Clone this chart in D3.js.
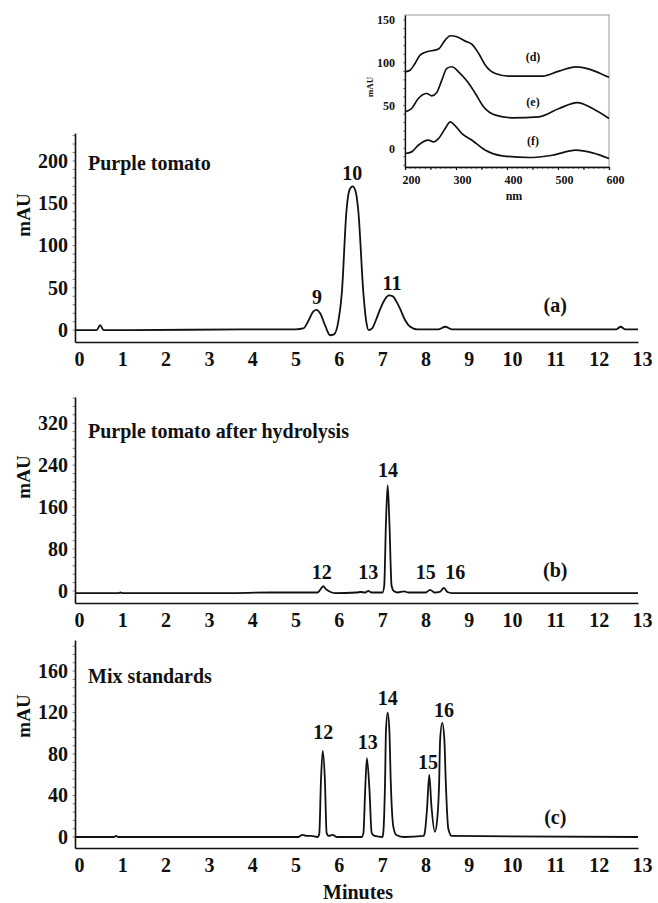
<!DOCTYPE html>
<html>
<head>
<meta charset="utf-8">
<script src="https://cdn.jsdelivr.net/npm/d3@7"></script>
<style>
body { margin: 0; background: #fff; }
svg text { font-family: "Liberation Serif", "Times New Roman", serif; font-weight: bold; fill: #111; }
</style>
</head>
<body>
<svg width="658" height="903"></svg>
<script>
// x ticks shared by the three chromatograms (minutes)
var minuteTicks = [0, 1, 2, 3, 4, 5, 6, 7, 8, 9, 10, 11, 12, 13];

// (a) purple tomato
var timeA = [0, 0.5, 0.58, 0.66, 1.2, 4.0, 5.1, 5.27, 5.4, 5.5, 5.58, 5.66, 5.78, 5.89, 5.98, 6.08, 6.16, 6.27, 6.34, 6.41, 6.48, 6.54, 6.66, 6.72, 6.78, 6.86, 6.95, 7.04, 7.15, 7.25, 7.34, 7.42, 7.5, 7.62, 7.74, 7.9, 8.4, 8.55, 8.7, 12.5, 12.6, 12.7, 13];
var mauA = [0, 0, 6, 0, 0, 1, 1, 2, 12, 22, 24, 20, 5, -6, -5, 10, 43, 142, 166, 170, 164, 142, 43, 12, 0, 2, 12, 24, 36, 41, 40, 34, 26, 12, 4, 1, 1, 4, 1, 1, 4, 1, 1];
var yTicksA = [0, 50, 100, 150, 200];
var peaksA = ["9", "10", "11", "(a)"];
var peakTimeA = [5.59, 6.40, 7.32, 11.09];
var peakMauA = [31, 177, 48, 21];

// (b) purple tomato after hydrolysis
var timeB = [0, 1.0, 1.05, 1.1, 2.5, 3.5, 4.5, 5.6, 5.66, 5.73, 5.8, 5.9, 6.0, 6.5, 6.6, 6.7, 6.77, 6.85, 7.1, 7.14, 7.18, 7.22, 7.26, 7.31, 7.36, 7.45, 7.6, 7.7, 8.1, 8.2, 8.3, 8.42, 8.52, 8.6, 8.7, 13];
var mauB = [-4, -4, -3, -4, -4, -4, -3, -3, 2, 9, 3, -2, -4, -3, -2, -3, 0, -3, -3, 10, 130, 202, 130, 10, 0, -3, -1, -3, -3, 2, -3, -2, 6, -2, -4, -4];
var yTicksB = [0, 80, 160, 240, 320];
var peaksB = ["12", "13", "14", "15", "16", "(b)"];
var peakTimeB = [5.70, 6.77, 7.23, 8.10, 8.78, 11.09];
var peakMauB = [23, 23, 217, 23, 23, 27];

// (c) mix standards
var timeC = [0, 0.9, 0.95, 1.0, 5.15, 5.25, 5.35, 5.45, 5.6, 5.64, 5.68, 5.72, 5.77, 5.81, 5.86, 5.95, 6.05, 6.62, 6.66, 6.70, 6.74, 6.80, 6.85, 6.92, 7.1, 7.12, 7.16, 7.18, 7.22, 7.26, 7.29, 7.35, 7.42, 7.6, 8.05, 8.08, 8.13, 8.18, 8.23, 8.31, 8.37, 8.41, 8.43, 8.48, 8.53, 8.56, 8.62, 8.7, 13];
var mauC = [0, 0, 1, 0, 0, 2, 1, 1, 0, 3, 55, 83, 55, 4, 1, 2, 0, 0, 4, 45, 76, 45, 4, 1, 0, 5, 55, 102, 120, 102, 55, 10, 2, 0, 1, 5, 28, 60, 30, 5, 20, 55, 93, 110, 93, 55, 8, 1, 0];
var yTicksC = [0, 40, 80, 120, 160];
var peaksC = ["12", "13", "14", "15", "16", "(c)"];
var peakTimeC = [5.73, 6.76, 7.22, 8.15, 8.52, 11.09];
var peakMauC = [95, 85, 127, 66, 116, 13];

// inset: UV-vis spectra
var nmTicks = [200, 300, 400, 500, 600];
var specTicks = [0, 50, 100, 150];
var nmD = [200, 210, 219.7, 229.6, 242.7, 259, 265.7, 278.8, 288.7, 301.8, 318.2, 331.4, 344.5, 357.6, 377.3, 403.6, 469.3, 502, 535, 561, 587.5, 600];
var specD = [89.5, 91.4, 99.3, 109, 112.9, 114.9, 116.1, 126.6, 131.7, 130.5, 125.4, 121.5, 110.9, 97.3, 87.5, 84.4, 84.4, 90.3, 95.3, 92.6, 86.4, 83];
var nmE = [200, 213, 226, 242.7, 252.5, 262.4, 272.2, 282, 292, 305, 321.5, 338, 354, 377.3, 410, 462.7, 502, 538, 567.8, 600];
var specE = [42.6, 46.5, 58.2, 64.1, 61.4, 65.3, 79.8, 93.5, 95.4, 89.5, 78.6, 64.1, 48.5, 38.7, 35.6, 36.7, 46.5, 53.5, 46.5, 34.8];
var nmF = [200, 213, 226, 246, 255.8, 265.7, 278.8, 288.7, 298.5, 311.7, 331.4, 357.6, 390.5, 443, 489, 535, 567.8, 600];
var specF = [-6.2, -4.3, 3.5, 9.4, 7.4, 11.3, 23, 30.9, 26.2, 17.2, 9.4, -2.3, -8.9, -10.9, -8.2, -2.3, -5.5, -12.1];
var specNames = ["(d)", "(e)", "(f)"];
var specNameNm = [451, 451, 451];
var specNameVal = [102, 49, 3.5];

function zip(a, b) {
    return a.map(function(v, i){ return [v, b[i]]; });
}

var svg = d3.select("svg");

function drawPanel(times, vals, yDomain, top, bottom, yTicks, minorStep, labels, labT, labV, title, titleY, mauY) {
    var x = d3.scaleLinear().domain([0, 13]).range([75, 638]);
    var y = d3.scaleLinear().domain(yDomain).range([bottom, top]);
    var g = svg.append("g");

    // minor ticks on y axis
    var minor = d3.range(yTicks[0], yDomain[1], minorStep);
    g.selectAll("line.minor").data(minor).enter().append("line")
        .attr("x1", 72.5).attr("x2", 75)
        .attr("y1", function(d){ return y(d); }).attr("y2", function(d){ return y(d); })
        .attr("stroke", "#888").attr("stroke-width", 1);

    var xa = g.append("g").attr("transform", "translate(0," + bottom + ")")
        .call(d3.axisBottom(x).tickValues(minuteTicks).tickSize(0).tickFormat(d3.format("d")));
    xa.select(".domain").attr("stroke", "#111").attr("stroke-width", 1.6);
    xa.selectAll("text").attr("y", 24).attr("dy", 0).attr("dx", 4).style("font-size", "20px");

    var ya = g.append("g").attr("transform", "translate(75,0)")
        .call(d3.axisLeft(y).tickValues(yTicks).tickSize(0).tickPadding(7));
    ya.select(".domain").attr("stroke", "#111").attr("stroke-width", 1.6);
    ya.selectAll("text").style("font-size", "20px");

    var line = d3.line().x(function(d){ return x(d[0]); }).y(function(d){ return y(d[1]); }).curve(d3.curveMonotoneX);
    g.append("path").datum(zip(times, vals)).attr("d", line)
        .attr("fill", "none").attr("stroke", "#111").attr("stroke-width", 1.8).attr("stroke-linejoin", "round");

    g.selectAll("text.peak").data(labels).enter().append("text")
        .attr("x", function(d, i){ return x(labT[i]); })
        .attr("y", function(d, i){ return y(labV[i]); })
        .attr("text-anchor", "middle").style("font-size", "20px")
        .text(function(d){ return d; });

    g.append("text").attr("x", 88).attr("y", titleY).style("font-size", "20px").text(title);

    g.append("text").attr("transform", "translate(30," + mauY + ") rotate(-90)")
        .attr("text-anchor", "middle").style("font-size", "19px").text("mAU");
}

drawPanel(timeA, mauA, [-14, 233], 133, 342, yTicksA, 10, peaksA, peakTimeA, peakMauA, "Purple tomato", 170, 215);
drawPanel(timeB, mauB, [-23, 370], 397, 603, yTicksB, 16, peaksB, peakTimeB, peakMauB, "Purple tomato after hydrolysis", 438, 477);
drawPanel(timeC, mauC, [-10.6, 190], 640, 848, yTicksC, 8, peaksC, peakTimeC, peakMauC, "Mix standards", 683, 716);

svg.append("text").attr("x", 358).attr("y", 899).attr("text-anchor", "middle").style("font-size", "20px").text("Minutes");

// inset spectra
var ix = d3.scaleLinear().domain([200, 600]).range([405, 609]);
var iy = d3.scaleLinear().domain([-22, 156]).range([167, 15]);
var inset = svg.append("g");

inset.append("rect").attr("x", 405).attr("y", 15).attr("width", 204).attr("height", 152)
    .attr("fill", "none").attr("stroke", "#999").attr("stroke-width", 1);

inset.selectAll("line.ym").data(d3.range(-20, 151, 10)).enter().append("line")
    .attr("x1", 403).attr("x2", 405)
    .attr("y1", function(d){ return iy(d); }).attr("y2", function(d){ return iy(d); })
    .attr("stroke", "#777").attr("stroke-width", 1);
inset.selectAll("line.xm").data(d3.range(210, 600, 10)).enter().append("line")
    .attr("y1", 167).attr("y2", 169)
    .attr("x1", function(d){ return ix(d); }).attr("x2", function(d){ return ix(d); })
    .attr("stroke", "#777").attr("stroke-width", 1);

var ixa = inset.append("g").attr("transform", "translate(0,167)")
    .call(d3.axisBottom(ix).tickValues(d3.range(200, 601, 50)).tickSize(3).tickFormat(function(d){ return nmTicks.indexOf(d) >= 0 ? d : ""; }));
ixa.select(".domain").attr("stroke", "#111").attr("stroke-width", 1.3);
ixa.selectAll("line").attr("stroke", "#111");
ixa.selectAll("text").attr("y", 17).attr("dy", 0).attr("dx", 6).style("font-size", "12px");

var iya = inset.append("g").attr("transform", "translate(405,0)")
    .call(d3.axisLeft(iy).tickValues(specTicks).tickSize(0).tickPadding(10));
iya.select(".domain").attr("stroke", "#111").attr("stroke-width", 1.3);
iya.selectAll("text").style("font-size", "12px");

var iline = d3.line().x(function(d){ return ix(d[0]); }).y(function(d){ return iy(d[1]); }).curve(d3.curveMonotoneX);
[zip(nmD, specD), zip(nmE, specE), zip(nmF, specF)].forEach(function(s){
    inset.append("path").datum(s).attr("d", iline)
        .attr("fill", "none").attr("stroke", "#111").attr("stroke-width", 1.7);
});

inset.selectAll("text.sp").data(specNames).enter().append("text")
    .attr("x", function(d, i){ return ix(specNameNm[i]); })
    .attr("y", function(d, i){ return iy(specNameVal[i]); })
    .attr("text-anchor", "middle").style("font-size", "12px")
    .text(function(d){ return d; });

inset.append("text").attr("x", 514).attr("y", 200).attr("text-anchor", "middle").style("font-size", "12px").text("nm");
inset.append("text").attr("transform", "translate(373,87) rotate(-90)").attr("text-anchor", "middle").style("font-size", "9px").text("mAU");
</script>
</body>
</html>
